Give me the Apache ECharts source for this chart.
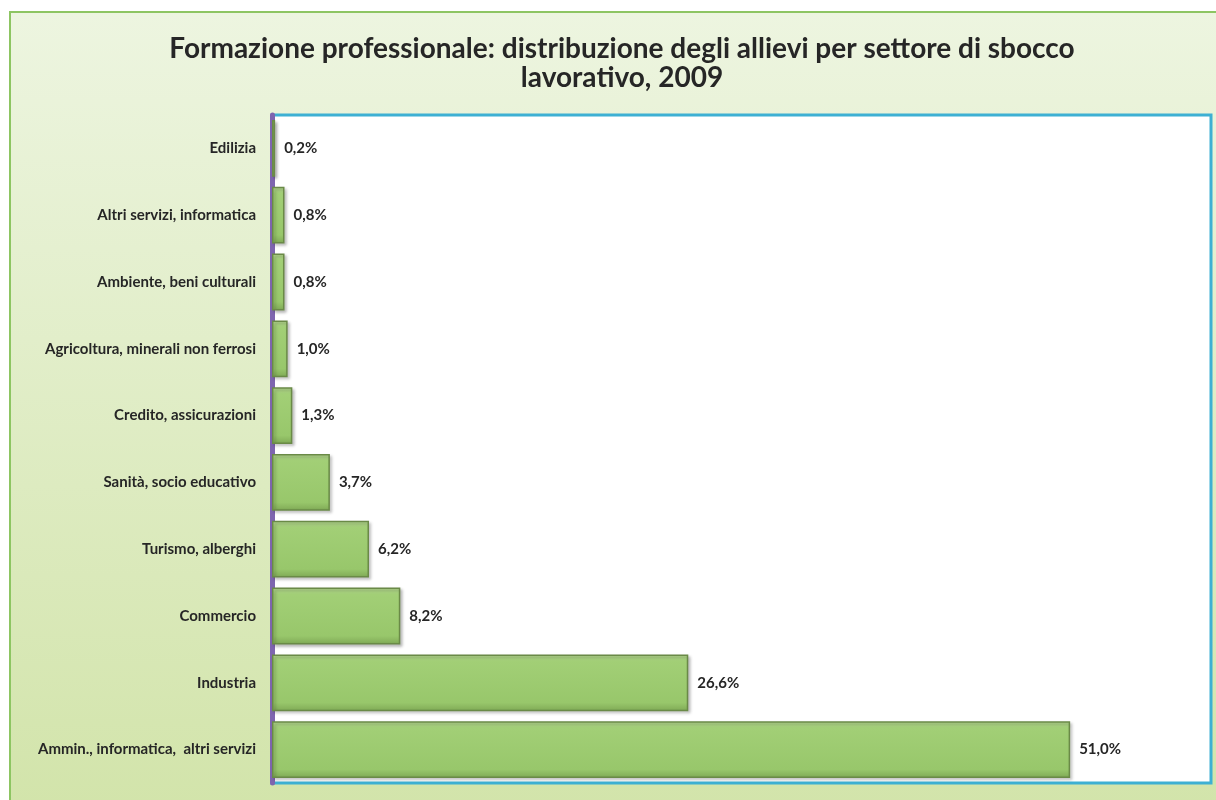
<!DOCTYPE html>
<html>
<head>
<meta charset="utf-8">
<script src="https://cdn.jsdelivr.net/npm/echarts@6/dist/echarts.min.js"></script>
<style>
html,body{margin:0;padding:0;background:#fff;}
#c{width:1216px;height:800px;}
</style>
</head>
<body>
<div id="c"></div>
<script>
const categories = [
  "Edilizia",
  "Altri servizi, informatica",
  "Ambiente, beni culturali",
  "Agricoltura, minerali non ferrosi",
  "Credito, assicurazioni",
  "Sanità, socio educativo",
  "Turismo, alberghi",
  "Commercio",
  "Industria",
  "Ammin., informatica,  altri servizi"
];
const values = [0.2, 0.8, 0.8, 1.0, 1.3, 3.7, 6.2, 8.2, 26.6, 51.0];
const titleLines = [
  "Formazione professionale: distribuzione degli allievi per settore di sbocco",
  "lavorativo, 2009"
];

const FONT = "Lato, 'Open Sans', sans-serif";
const chart = echarts.init(document.getElementById('c'), null, {renderer: 'canvas'});
chart.setOption({
  backgroundColor: '#ffffff',
  animation: false,
  graphic: [
    {
      type: 'rect', z: -10, silent: true,
      shape: {x: 10, y: 12, width: 1220, height: 800},
      style: {
        fill: {type: 'linear', x: 0, y: 0, x2: 0, y2: 1, colorStops: [
          {offset: 0, color: '#EDF5E0'}, {offset: 1, color: '#D2E4AA'}
        ]},
        stroke: '#8DC562', lineWidth: 2
      }
    }
  ],
  title: {
    text: titleLines.join('\n'),
    left: 617, top: 29, textAlign: 'center',
    textStyle: {fontFamily: FONT, fontWeight: 'bold', fontSize: 28, color: '#262626', lineHeight: 29}
  },
  grid: {
    left: 272, top: 115, width: 939, height: 668,
    show: true, backgroundColor: '#ffffff', borderColor: '#3DB0D3', borderWidth: 3,
    containLabel: false
  },
  xAxis: {
    type: 'value', min: 0, max: 60,
    axisLine: {show: false}, axisTick: {show: false}, axisLabel: {show: false}, splitLine: {show: false}
  },
  yAxis: {
    type: 'category', data: categories, inverse: true,
    axisLine: {show: true, lineStyle: {color: '#7E65AF', width: 5}},
    axisTick: {show: false},
    axisLabel: {fontFamily: FONT, fontWeight: 'bold', fontSize: 15, color: '#262626', margin: 16}
  },
  series: [{
    type: 'bar', data: values, barCategoryGap: '15%',
    itemStyle: {
      color: {type: 'linear', x: 0, y: 0, x2: 0, y2: 1, colorStops: [
        {offset: 0, color: '#B7DA92'}, {offset: 0.12, color: '#A2CF76'},
        {offset: 0.85, color: '#98C76B'}, {offset: 1, color: '#7FA955'}
      ]},
      borderColor: '#6A8A47', borderWidth: 1.5,
      shadowColor: 'rgba(0,0,0,0.25)', shadowBlur: 3, shadowOffsetX: 2, shadowOffsetY: 2
    },
    label: {
      show: true, position: 'right', distance: 9,
      fontFamily: FONT, fontWeight: 'bold', fontSize: 15, color: '#262626',
      formatter: p => p.value.toFixed(1).replace('.', ',') + '%'
    }
  }]
});
</script>
</body>
</html>
